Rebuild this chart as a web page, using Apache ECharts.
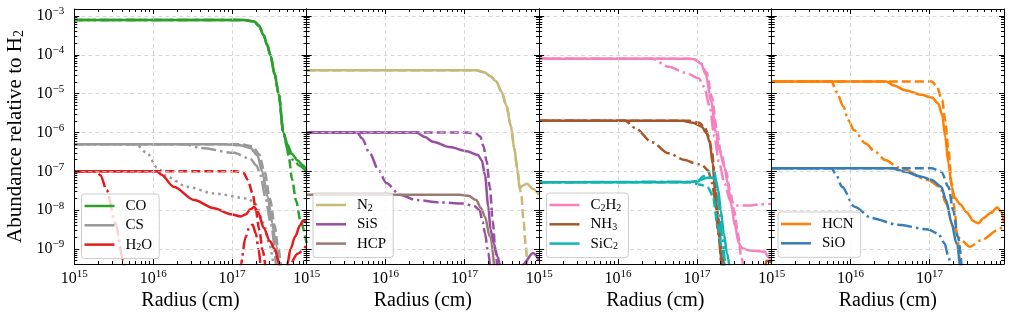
<!DOCTYPE html>
<html><head><meta charset="utf-8">
<script src="https://cdn.jsdelivr.net/npm/echarts@6/dist/echarts.min.js"></script>
<style>html,body{margin:0;padding:0;background:#fff}#c{width:1017px;height:323px}</style>
</head><body><div id="c"></div>
<script>
// ---------- ticks & ranges ----------
const X_TICKS = [1e15, 1e16, 1e17];
const Y_TICKS = [1e-9, 1e-8, 1e-7, 1e-6, 1e-5, 1e-4, 1e-3];
const X_RANGE = [1e15, 8.8e17];
const Y_RANGE = [4.11e-10, 1.51e-3];
const MINOR_MULT = [2, 3, 4, 5, 6, 7, 8, 9];
const X_DECADES = [15, 16, 17];
const Y_DECADES = [-10, -9, -8, -7, -6, -5, -4];

// ---------- panel 1 ----------
const CO_solid = [[1e15,7.9e-4],[1.41e17,7.9e-4],[1.91e17,7.2e-4],[2.19e17,5.6e-4],[2.51e17,3.2e-4],[2.79e17,1.78e-4],[3.05e17,1e-4],[3.47e17,3.16e-5],[3.89e17,1e-5],[4.47e17,1e-6],[5.01e17,5.0e-7],[5.75e17,2.8e-7],[6.76e17,1.9e-7],[7.94e17,1.41e-7],[8.8e17,1.05e-7]];
const CO_dashed = [[1e15,7.9e-4],[1.41e17,7.9e-4],[1.91e17,7.2e-4],[2.19e17,5.6e-4],[2.51e17,3.2e-4],[2.79e17,1.78e-4],[3.05e17,1e-4],[3.47e17,3.16e-5],[3.89e17,1e-5],[4.47e17,1e-6],[4.79e17,6.3e-7],[5.25e17,2.24e-7],[5.75e17,6.3e-8],[6.46e17,1.78e-8],[7.41e17,5.0e-9],[8.8e17,1.41e-9]];
const CO_dashdot = [[1e15,7.9e-4],[1.41e17,7.9e-4],[1.91e17,7.2e-4],[2.19e17,5.6e-4],[2.51e17,3.2e-4],[2.79e17,1.78e-4],[3.05e17,1e-4],[3.47e17,3.16e-5],[3.89e17,1e-5],[4.47e17,1e-6],[5.01e17,3.8e-7],[6.03e17,1.9e-7],[7.24e17,1.38e-7],[8.8e17,9.5e-8]];
const CS_solid = [[1e15,5.0e-7],[7.94e16,5.0e-7],[1.26e17,4.7e-7],[1.70e17,4.0e-7],[2.09e17,2.6e-7],[2.40e17,1.0e-7],[2.82e17,2.24e-8],[3.24e17,4.6e-9],[3.55e17,1.41e-9],[3.98e17,3.2e-10]];
const CS_dashed = [[1e15,5e-7],[1.26e17,5e-7],[1.82e17,4.37e-7],[2.19e17,2.8e-7],[2.57e17,1e-7],[3.02e17,2e-8],[3.47e17,4e-9],[3.80e17,1.26e-9],[4.17e17,3.2e-10]];
const CS_dashdot = [[1e15,5e-7],[2.51e16,5e-7],[3.98e16,4.0e-7],[1.05e17,3.0e-7],[1.70e17,2.1e-7],[2.04e17,1.41e-7],[2.29e17,7.9e-8],[2.63e17,2.24e-8],[3.09e17,4.6e-9],[3.63e17,3.2e-10]];
const CS_dotted = [[1e15,5e-7],[6.03e15,5e-7],[8.32e15,2.95e-7],[1.12e16,1.26e-7],[1.51e16,7.2e-8],[2.69e16,4.0e-8],[5.89e16,2.7e-8],[1.58e17,2.0e-8],[2.0e17,1.41e-8],[2.51e17,4.6e-9],[2.95e17,1.41e-9],[3.39e17,3.2e-10]];
const H2O_solid = [[1e15,1e-7],[1.12e16,1e-7],[1.26e16,8.3e-8],[1.82e16,4.0e-8],[3.31e16,1.82e-8],[5.89e16,1.12e-8],[9.55e16,7.9e-9],[1.29e17,6.9e-9],[1.51e17,7.9e-9],[1.70e17,1.05e-8],[1.91e17,1.2e-8],[2.14e17,8.9e-9],[2.51e17,3.55e-9],[3.02e17,1.58e-9],[3.47e17,1e-9],[3.98e17,4e-10],[4.27e17,3e-11],[4.57e17,3e-11],[5.01e17,4e-10],[5.50e17,1e-9],[6.31e17,2.1e-9],[7.24e17,4e-9],[7.94e17,5.4e-9],[8.8e17,4.8e-9]];
const H2O_dashed = [[1e15,1e-7],[1.12e17,1e-7],[1.41e17,8.9e-8],[1.58e17,6.0e-8],[1.82e17,2.7e-8],[2.0e17,1e-8],[2.21e17,3.1e-9],[2.44e17,9.3e-10],[2.69e17,2.5e-10]];
const H2O_dashdot = [[1e15,1e-7],[1.91e15,1e-7],[2.14e15,7.9e-8],[2.57e15,3.3e-8],[3.31e15,4.6e-9],[4.17e15,5.1e-10],[5.01e15,3e-11],[1.12e17,3e-11],[1.29e17,4e-10],[1.48e17,2e-9],[1.66e17,3.7e-9],[1.82e17,4.2e-9],[2.0e17,2.5e-9],[2.16e17,1e-9],[2.34e17,3.2e-10],[2.63e17,3e-11],[4.57e17,3e-11],[5.25e17,3.6e-10],[6.76e17,7.6e-10],[8.8e17,1.26e-9]];

// ---------- panel 2 ----------
const N2_solid = [[1e15,4.0e-5],[1.41e17,4.0e-5],[1.78e17,3.55e-5],[2.14e17,2.8e-5],[2.51e17,2.1e-5],[2.95e17,1.12e-5],[3.39e17,5.0e-6],[3.89e17,1.41e-6],[4.27e17,4.0e-7],[4.68e17,1.12e-7],[5.01e17,3.6e-8],[5.37e17,4.2e-8],[6.17e17,4.8e-8],[7.41e17,3.5e-8],[8.8e17,2.45e-8]];
const N2_dashed = [[1e15,4.0e-5],[1.41e17,4.0e-5],[1.78e17,3.55e-5],[2.14e17,2.8e-5],[2.51e17,2.1e-5],[2.95e17,1.12e-5],[3.39e17,5.0e-6],[3.89e17,1.41e-6],[4.27e17,4.0e-7],[4.68e17,1.12e-7],[5.01e17,3.6e-8],[5.25e17,2.5e-8],[5.62e17,5.0e-9],[5.96e17,1.26e-9],[6.31e17,2.5e-10]];
const SiS_solid = [[1e15,1e-6],[2.45e16,1e-6],[3.16e16,7.6e-7],[3.98e16,5.75e-7],[6.46e16,4.2e-7],[1.07e17,3.3e-7],[1.48e17,2.63e-7],[1.66e17,1.9e-7],[1.82e17,7.9e-8],[2.0e17,1.26e-8],[2.14e17,3.16e-9],[2.34e17,1.41e-9],[2.63e17,6.3e-10],[2.88e17,3.2e-10],[3.16e17,3e-11],[5.01e17,3e-11],[5.50e17,4e-10],[7.41e17,7.9e-10],[8.8e17,5.1e-10]];
const SiS_dashed = [[1e15,1e-6],[1.07e17,1e-6],[1.41e17,9.3e-7],[1.58e17,7.9e-7],[1.74e17,4.4e-7],[1.91e17,1.78e-7],[2.09e17,4.0e-8],[2.29e17,5.0e-9],[2.45e17,1e-9],[2.63e17,2.5e-10]];
const SiS_dashdot = [[1e15,1e-6],[4.37e15,1e-6],[5.01e15,7.1e-7],[6.31e15,2.9e-7],[8.13e15,1.07e-7],[1.02e16,5.0e-8],[1.51e16,2.5e-8],[2.45e16,1.82e-8],[4.9e16,1.58e-8],[9.55e16,1.48e-8],[1.35e17,1.26e-8],[1.55e17,1e-8],[1.70e17,5.0e-9],[1.82e17,2.5e-9],[2.0e17,7.9e-10],[2.14e17,2.5e-10]];
const HCP_solid = [[1e15,2.5e-8],[8.7e16,2.5e-8],[1.12e17,2.35e-8],[1.41e17,1.82e-8],[1.62e17,1.12e-8],[1.82e17,6.8e-9],[2.09e17,2.1e-9],[2.40e17,3.2e-10]];

// ---------- panel 3 ----------
const C2H2_solid = [[1e15,7.9e-5],[7.76e16,7.9e-5],[9.33e16,7.6e-5],[1.12e17,6.0e-5],[1.29e17,3.16e-5],[1.51e17,6.3e-6],[1.74e17,1e-6],[1.91e17,3.55e-7],[2.24e17,1.26e-7],[2.45e17,4.9e-8],[2.69e17,1.51e-8],[3.02e17,4.0e-9],[3.39e17,1.41e-9],[3.72e17,1.05e-9],[4.47e17,9.3e-10],[7.24e17,8.5e-10],[7.94e17,6.3e-10],[8.8e17,4.5e-10]];
const C2H2_dashed = [[1e15,7.9e-5],[7.76e16,7.9e-5],[9.33e16,7.6e-5],[1.12e17,6.0e-5],[1.32e17,3.55e-5],[1.55e17,7.9e-6],[1.78e17,1.26e-6],[2.0e17,3.16e-7],[2.34e17,1e-7],[2.63e17,3.16e-8],[2.95e17,1e-8],[3.31e17,2.5e-9],[3.63e17,6.3e-10],[3.98e17,2.5e-10]];
const C2H2_dashdot = [[1e15,7.9e-5],[2.69e16,7.9e-5],[4.37e16,4.9e-5],[7.08e16,3.47e-5],[1.05e17,2.5e-5],[1.23e17,1.51e-5],[1.45e17,4.7e-6],[1.66e17,7.8e-7],[1.91e17,1.62e-7],[2.24e17,4.9e-8],[2.63e17,1.78e-8],[3.16e17,1.32e-8],[4.47e17,1.32e-8],[6.31e17,1.41e-8],[8.8e17,1.45e-8]];
const NH3_solid = [[1e15,2.0e-6],[6.46e16,2.0e-6],[8.9e16,1.78e-6],[1.15e17,1.41e-6],[1.32e17,9.5e-7],[1.45e17,5.6e-7],[1.58e17,1.58e-7],[1.74e17,1.51e-8],[1.91e17,2.1e-9],[2.09e17,3.2e-10],[2.51e17,3e-11],[6.61e17,3e-11],[7.59e17,5.0e-10],[8.8e17,4.5e-10]];
const NH3_dashed = [[1e15,2e-6],[7.94e16,2e-6],[1.07e17,1.78e-6],[1.26e17,1.32e-6],[1.41e17,7.9e-7],[1.55e17,3.16e-7],[1.70e17,5.0e-8],[1.86e17,6.3e-9],[2.04e17,1e-9],[2.24e17,2.5e-10]];
const NH3_dashdot = [[1e15,2e-6],[1.23e16,2e-6],[1.66e16,1.29e-6],[2.69e16,5.6e-7],[4.37e16,2.9e-7],[7.08e16,1.95e-7],[9.33e16,1.62e-7],[1.15e17,1.45e-7],[1.38e17,1.07e-7],[1.55e17,5.0e-8],[1.70e17,1.82e-8],[1.86e17,2.5e-9],[2.04e17,3.2e-10]];
const SiC2_solid = [[1e15,5.2e-8],[7.08e16,5.2e-8],[1e17,5.6e-8],[1.35e17,6.8e-8],[1.58e17,6.9e-8],[1.74e17,5.6e-8],[1.86e17,3.3e-8],[2.0e17,1e-8],[2.19e17,2.5e-9],[2.40e17,7.9e-10],[2.63e17,2.5e-10]];
const SiC2_dashed = [[1e15,5.2e-8],[7.94e16,5.2e-8],[1.12e17,4.5e-8],[1.38e17,3.8e-8],[1.58e17,2.4e-8],[1.82e17,4.6e-9],[2.09e17,9.3e-10],[2.29e17,2.5e-10]];
const SiC2_dashdot = [[1e15,5.2e-8],[1e17,5.4e-8],[1.23e17,7.6e-8],[1.51e17,1.05e-7],[1.66e17,1e-7],[1.78e17,4.5e-8],[1.91e17,1e-8],[2.09e17,2.1e-9],[2.29e17,2.5e-10]];

// ---------- panel 4 ----------
const HCN_solid = [[1e15,2.04e-5],[2.82e16,2.04e-5],[3.55e16,1.62e-5],[4.9e16,1.23e-5],[7.94e16,9.3e-6],[1.07e17,7.9e-6],[1.29e17,5.6e-6],[1.45e17,2.8e-6],[1.58e17,7.9e-7],[1.74e17,1.62e-7],[1.91e17,4.0e-8],[2.09e17,2.1e-8],[2.45e17,1.41e-8],[2.95e17,8.9e-9],[3.63e17,5.2e-9],[4.17e17,4.6e-9],[4.79e17,6.2e-9],[5.89e17,8.3e-9],[7.24e17,1.17e-8],[7.94e17,9.5e-9],[8.8e17,4.8e-9]];
const HCN_dashed = [[1e15,2.04e-5],[1.07e17,2.04e-5],[1.23e17,1.58e-5],[1.45e17,6.9e-6],[1.58e17,2.1e-6],[1.74e17,3.55e-7],[1.91e17,4.9e-8],[2.09e17,1e-8],[2.24e17,2.1e-9],[2.45e17,3.2e-10]];
const HCN_dashdot = [[1e15,2.04e-5],[5.75e15,2.04e-5],[6.61e15,1.12e-5],[8.13e15,4.6e-6],[9.33e15,2.1e-6],[1.10e16,1.15e-6],[1.55e16,5.2e-7],[2.04e16,3.2e-7],[2.75e16,1.95e-7],[4.07e16,1.26e-7],[9.55e16,6.0e-8],[1.35e17,4.0e-8],[1.62e17,1.51e-8],[2.0e17,3.7e-9],[2.51e17,1.7e-9],[3.24e17,1.15e-9],[4.57e17,1.7e-9],[7.41e17,3.1e-9],[8.8e17,4.2e-9]];
const SiO_solid = [[1e15,1.2e-7],[3.31e16,1.2e-7],[4.9e16,9.8e-8],[7.94e16,7.2e-8],[1.07e17,6.0e-8],[1.41e17,4.0e-8],[1.62e17,1.82e-8],[1.91e17,4.6e-9],[2.19e17,1.41e-9],[2.45e17,3.2e-10]];
const SiO_dashed = [[1e15,1.2e-7],[1.07e17,1.2e-7],[1.41e17,9.8e-8],[1.74e17,4.0e-8],[2.0e17,1e-8],[2.29e17,2.1e-9],[2.57e17,3.2e-10]];
const SiO_dashdot = [[1e15,1.2e-7],[5.75e15,1.2e-7],[6.61e15,7.9e-8],[7.76e15,4.0e-8],[1.12e16,1.23e-8],[1.86e16,6.2e-9],[3.98e16,4.2e-9],[9.55e16,3.2e-9],[1.29e17,2.5e-9],[1.55e17,1.41e-9],[1.74e17,6.3e-10],[1.91e17,2.5e-10]];

const COLORS = {CO:'#2ca02c', CS:'#999999', H2O:'#e41a1c', N2:'#c8b87a', SiS:'#984ea3', HCP:'#9a7b73',
  C2H2:'#f781bf', NH3:'#a65628', SiC2:'#12b3b3', HCN:'#ff7f00', SiO:'#377eb8'};
const DASH = {solid:'solid', dashed:[9,4], dashdot:[15,4,2.5,4], dotted:[2.5,4]};

const PANELS = [
  {legend:['CO','CS','H2O'], legendPos:[81.5,194], lines:[
    ['CO','solid',CO_solid],['CO','dashed',CO_dashed],['CO','dashdot',CO_dashdot],
    ['CS','solid',CS_solid],['CS','dashed',CS_dashed],['CS','dashdot',CS_dashdot],['CS','dotted',CS_dotted],
    ['H2O','solid',H2O_solid],['H2O','dashed',H2O_dashed],['H2O','dashdot',H2O_dashdot]]},
  {legend:['N2','SiS','HCP'], legendPos:[313,193], lines:[
    ['N2','solid',N2_solid],['N2','dashed',N2_dashed],
    ['SiS','solid',SiS_solid],['SiS','dashed',SiS_dashed],['SiS','dashdot',SiS_dashdot],
    ['HCP','solid',HCP_solid]]},
  {legend:['C2H2','NH3','SiC2'], legendPos:[546.5,193], lines:[
    ['C2H2','solid',C2H2_solid],['C2H2','dashed',C2H2_dashed],['C2H2','dashdot',C2H2_dashdot],
    ['NH3','solid',NH3_solid],['NH3','dashed',NH3_dashed],['NH3','dashdot',NH3_dashdot],
    ['SiC2','solid',SiC2_solid],['SiC2','dashed',SiC2_dashed],['SiC2','dashdot',SiC2_dashdot]]},
  {legend:['HCN','SiO'], legendPos:[778,212], lines:[
    ['HCN','solid',HCN_solid],['HCN','dashed',HCN_dashed],['HCN','dashdot',HCN_dashdot],
    ['SiO','solid',SiO_solid],['SiO','dashed',SiO_dashed],['SiO','dashdot',SiO_dashdot]]}
];

// ---------- layout ----------
const F = 'Liberation Serif';
const GRID_LEFT = [74.3, 306.7, 539.2, 771.7];
const GRID_W = 232.3, GRID_TOP = 9, GRID_H = 255;

const minorVals = (decs, range) => {
  const out = [];
  decs.forEach(d => MINOR_MULT.forEach(k => { const v = k * Math.pow(10, d); if (v > range[0] && v < range[1]) out.push(v); }));
  return out;
};
const X_MINOR = minorVals(X_DECADES, X_RANGE);
const Y_MINOR = minorVals(Y_DECADES, Y_RANGE);

const supLabel = v => { const e = Math.round(Math.log10(v)); return '{b|10}{s|' + (e < 0 ? '\u2212' + (-e) : e) + '}'; };
const tickRich = {
  b: {fontFamily: F, fontSize: 16, lineHeight: 20, color: '#000'},
  s: {fontFamily: F, fontSize: 11, lineHeight: 12, verticalAlign: 'top', color: '#000'}
};
const BLACK = {color: '#000', width: 1};
const GRIDLINE = {color: '#cfcfcf', width: 0.8, type: [4, 3]};

const grids = [], xAxes = [], yAxes = [], series = [], legends = [];
PANELS.forEach((p, g) => {
  grids.push({left: GRID_LEFT[g], top: GRID_TOP, width: GRID_W, height: GRID_H, containLabel: false, outerBoundsMode: 'none'});
  const mkX = (pos, vals, len, line, labels, split, name) => ({
    gridIndex: g, type: 'log', logBase: 10, min: X_RANGE[0], max: X_RANGE[1], position: pos,
    axisLine: {show: line, onZero: false, lineStyle: BLACK},
    axisTick: {show: true, inside: true, length: len, customValues: vals, lineStyle: BLACK},
    axisLabel: labels ? {show: true, customValues: X_TICKS, formatter: supLabel, margin: 5, rich: tickRich} : {show: false},
    splitLine: split ? {show: true, lineStyle: GRIDLINE} : {show: false},
    minorTick: {show: false}, minorSplitLine: {show: false},
    name: name || '', nameLocation: 'middle', nameGap: 27, nameMoveOverlap: false,
    nameTextStyle: {fontFamily: F, fontSize: 20, color: '#000'}, silent: true, z: 3
  });
  const mkY = (pos, vals, len, line, labels, split, name) => ({
    gridIndex: g, type: 'log', logBase: 10, min: Y_RANGE[0], max: Y_RANGE[1], position: pos,
    axisLine: {show: line, onZero: false, lineStyle: BLACK},
    axisTick: {show: true, inside: true, length: len, customValues: vals, lineStyle: BLACK},
    axisLabel: labels ? {show: true, customValues: Y_TICKS, formatter: supLabel, margin: 10, rich: tickRich} : {show: false},
    splitLine: split ? {show: true, lineStyle: GRIDLINE} : {show: false},
    minorTick: {show: false}, minorSplitLine: {show: false},
    name: name || '', nameLocation: 'middle', nameGap: 48, nameRotate: 90, nameMoveOverlap: false,
    nameTextStyle: {fontFamily: F, fontSize: 21, lineHeight: 22, color: '#000',
      rich: {sub: {fontFamily: F, fontSize: 14, lineHeight: 10, verticalAlign: 'bottom', color: '#000'}}},
    silent: true, z: 3
  });
  const xi = xAxes.length, yi = yAxes.length;
  xAxes.push(mkX('bottom', X_TICKS, 5, true, true, true, 'Radius (cm)'));
  xAxes.push(mkX('bottom', X_MINOR, 3, false, false, false));
  xAxes.push(mkX('top', X_TICKS, 5, true, false, false));
  xAxes.push(mkX('top', X_MINOR, 3, false, false, false));
  yAxes.push(mkY('left', Y_TICKS, 5, true, g === 0, true, g === 0 ? 'Abundance relative to H{sub|2}' : ''));
  yAxes.push(mkY('left', Y_MINOR, 3, false, false, false));
  yAxes.push(mkY('right', Y_TICKS, 5, true, false, false));
  yAxes.push(mkY('right', Y_MINOR, 3, false, false, false));

  p.lines.forEach(([sp, style, data]) => {
    series.push({
      type: 'line', name: style === 'solid' ? sp : sp + ' ' + style,
      xAxisIndex: xi, yAxisIndex: yi, data: data,
      symbol: 'none', showSymbol: false, smooth: 0.3, smoothMonotone: 'x', clip: true,
      lineStyle: {color: COLORS[sp], width: 2.5, type: DASH[style], cap: 'butt'},
      itemStyle: {color: COLORS[sp]}, emphasis: {disabled: true}, silent: true, animation: false, z: 2
    });
  });

  legends.push({
    data: p.legend.map(n => ({name: n, icon: 'rect', itemStyle: {color: COLORS[n]}})),
    orient: 'vertical', left: p.legendPos[0], top: p.legendPos[1],
    itemWidth: 30, itemHeight: 2.5, itemGap: 3.3, padding: [4, 7, 6, 3],
    borderColor: '#cccccc', borderWidth: 1, borderRadius: 3, backgroundColor: 'rgba(255,255,255,0.8)',
    selectedMode: false, icon: 'rect',
    formatter: n => n.replace(/(\d)/g, '{sub|$1}'),
    textStyle: {fontFamily: F, fontSize: 15, lineHeight: 16, color: '#000', padding: [0, 0, 0, 6],
      rich: {sub: {fontFamily: F, fontSize: 10, lineHeight: 8, verticalAlign: 'bottom', color: '#000'}}},
    z: 10
  });
});

const chart = echarts.init(document.getElementById('c'), null, {renderer: 'canvas'});
chart.setOption({
  animation: false, backgroundColor: '#fff',
  grid: grids, xAxis: xAxes, yAxis: yAxes, series: series, legend: legends,
  tooltip: {show: false}
});
</script></body></html>
